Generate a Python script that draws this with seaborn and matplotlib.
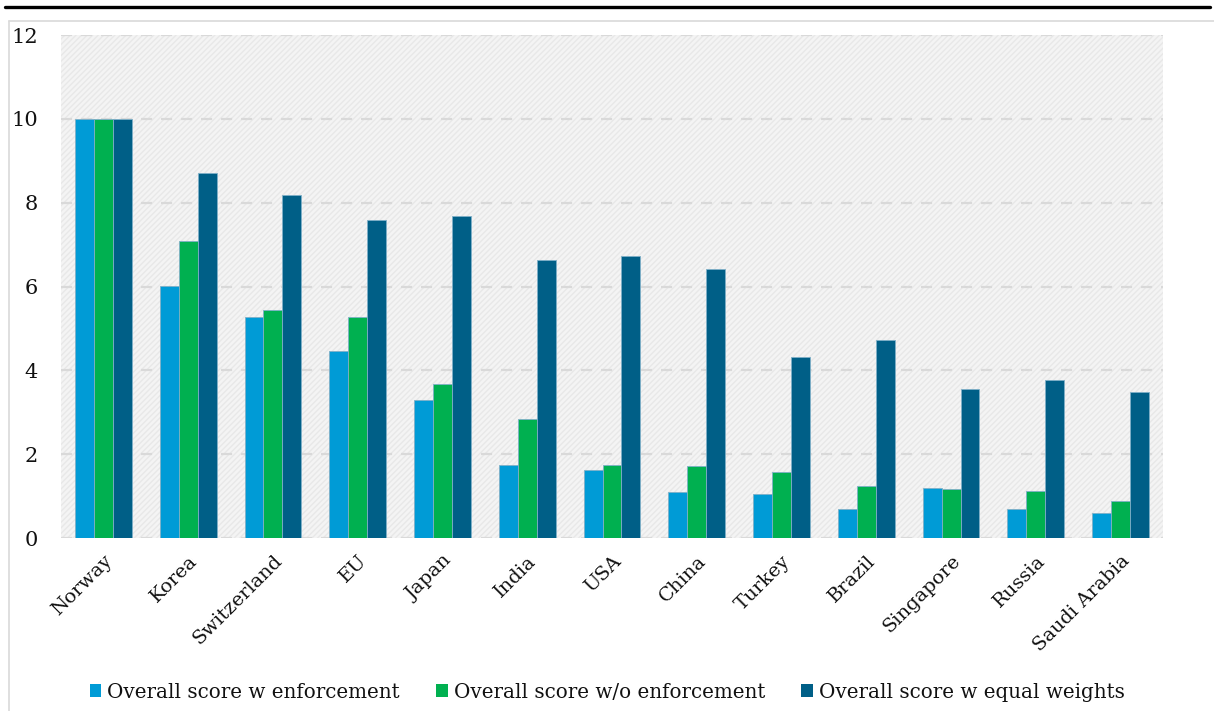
import matplotlib
matplotlib.use("Agg")
import matplotlib.pyplot as plt
import seaborn as sns
import pandas as pd
from matplotlib.lines import Line2D
from matplotlib.patches import Rectangle, Patch

countries = ["Norway", "Korea", "Switzerland", "EU", "Japan", "India", "USA",
             "China", "Turkey", "Brazil", "Singapore", "Russia", "Saudi Arabia"]
w_enforcement = [10.0, 6.01, 5.27, 4.46, 3.29, 1.74, 1.62, 1.10, 1.05, 0.68, 1.19, 0.69, 0.60]
wo_enforcement = [10.0, 7.09, 5.44, 5.27, 3.68, 2.84, 1.74, 1.72, 1.58, 1.24, 1.16, 1.11, 0.89]
equal_weights = [10.0, 8.71, 8.19, 7.59, 7.68, 6.63, 6.73, 6.42, 4.33, 4.73, 3.56, 3.76, 3.48]
series_names = ["Overall score w enforcement", "Overall score w/o enforcement",
                "Overall score w equal weights"]
colors = ["#009BD6", "#00B050", "#005F87"]
yticks = [0, 2, 4, 6, 8, 10, 12]

rows = []
for name, vals in zip(series_names, [w_enforcement, wo_enforcement, equal_weights]):
    for c, v in zip(countries, vals):
        rows.append({"country": c, "score": v, "series": name})
df = pd.DataFrame(rows)

sns.set_style("white")
plt.rcParams["font.family"] = ["DejaVu Serif"]

fig = plt.figure(figsize=(12.14, 7.11), dpi=100)
ax = fig.add_axes([61 / 1214, 1 - 538 / 711, (1163 - 61) / 1214, (538 - 35) / 711])

# hatched background
ax.patch.set_visible(False)
bg = Rectangle((0, 0), 1, 1, transform=ax.transAxes, facecolor="#f4f4f4",
               edgecolor="#e8e8e8", hatch="//////", linewidth=0, zorder=0)
ax.add_patch(bg)

sns.barplot(data=df, x="country", y="score", hue="series", palette=colors,
            width=0.67, ax=ax, legend=False, zorder=3, saturation=1,
            edgecolor="#7fb0c8", linewidth=0.6)

ax.set_ylim(0, 12)
ax.set_xlim(-0.5, len(countries) - 0.5)
ax.set_yticks(yticks)
ax.set_yticklabels([str(t) for t in yticks], fontsize=15, color="#111111")
ax.yaxis.grid(True, linestyle=(0, (5, 4)), color="#d9d9d9", linewidth=1.6, zorder=1)
ax.set_axisbelow(True)
for s in ax.spines.values():
    s.set_visible(False)
ax.tick_params(axis="y", length=0, pad=16.5)
ax.tick_params(axis="x", length=0, pad=10)
ax.set_xlabel("")
ax.set_ylabel("")
plt.setp(ax.get_xticklabels(), rotation=45, ha="right", rotation_mode="anchor",
         fontsize=14, color="#111111")

# frame lines
fig.add_artist(Line2D([5 / 1214, 1210 / 1214], [1 - 7 / 711, 1 - 7 / 711],
                      color="black", linewidth=2.4, transform=fig.transFigure))
fig.add_artist(Line2D([9 / 1214, 1.0], [1 - 21 / 711, 1 - 21 / 711],
                      color="#d9d9d9", linewidth=1.2, transform=fig.transFigure))
fig.add_artist(Line2D([9 / 1214, 9 / 1214], [1 - 21 / 711, 0],
                      color="#d9d9d9", linewidth=1.2, transform=fig.transFigure))

handles = [Patch(facecolor=c, edgecolor="none") for c in colors]
fig.legend(handles, series_names, loc="center", bbox_to_anchor=(0.5, 1 - 692 / 711),
           ncol=3, frameon=False, fontsize=14.3, handlelength=0.6, handleheight=0.6,
           handletextpad=0.3, columnspacing=1.8, labelcolor="#111111")

fig.savefig("out.png", dpi=100)
